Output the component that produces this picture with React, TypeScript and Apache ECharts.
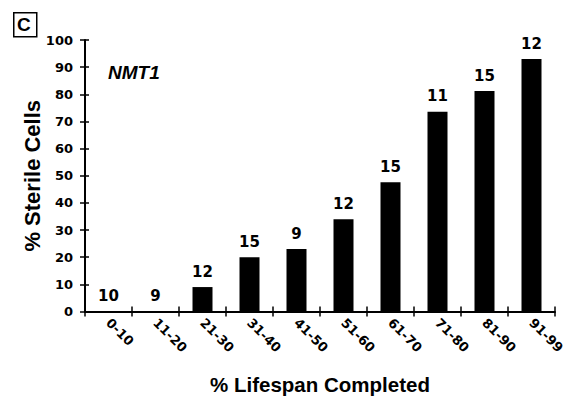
import React, { useEffect, useRef } from "react";
import * as echarts from "echarts";

const categories = ["0-10", "11-20", "21-30", "31-40", "41-50", "51-60", "61-70", "71-80", "81-90", "91-99"];
const sterilePercent = [0, 0, 9, 20, 23, 34, 47.6, 73.6, 81.2, 93];
const cellCounts = [10, 9, 12, 15, 9, 12, 15, 11, 15, 12];
const yTicks = { min: 0, max: 100, interval: 10 };
const panelLabel = "C";
const strainLabel = "NMT1";
const xTitle = "% Lifespan Completed";
const yTitle = "% Sterile Cells";

const NUM_FONT = "'DejaVu Sans', sans-serif";
const TXT_FONT = "'Liberation Sans', Arial, Helvetica, sans-serif";

export default function App() {
  const ref = useRef<HTMLDivElement>(null);
  useEffect(() => {
    if (!ref.current) return;
    const chart = echarts.init(ref.current, undefined, { renderer: "svg" });
    const axisLine = { show: true, lineStyle: { color: "#000", width: 2 } };
    chart.setOption({
      animation: false,
      backgroundColor: "#fff",
      grid: { left: 85, right: 11, top: 40, bottom: 86.5, containLabel: false, outerBoundsMode: "none" },
      xAxis: [
        {
          type: "category",
          data: categories,
          boundaryGap: true,
          axisLine,
          axisTick: { show: true, length: 5, lineStyle: { color: "#000", width: 1.5 } },
          axisLabel: {
            rotate: -45,
            margin: 9,
            color: "#000",
            fontFamily: NUM_FONT,
            fontWeight: "bold",
            fontSize: 13,
            interval: 0,
          },
          name: xTitle,
          nameLocation: "middle",
          nameGap: 62,
          nameMoveOverlap: false,
          nameTextStyle: { color: "#000", fontFamily: TXT_FONT, fontWeight: "bold", fontSize: 20.5 },
        },
        {
          type: "category",
          data: categories,
          position: "bottom",
          boundaryGap: true,
          axisLine: { show: false },
          axisTick: { show: true, inside: true, length: 5, lineStyle: { color: "#000", width: 1.5 } },
          axisLabel: { show: false },
        },
      ],
      yAxis: [
        {
          type: "value",
          min: yTicks.min,
          max: yTicks.max,
          interval: yTicks.interval,
          axisLine,
          axisTick: { show: true, length: 5, lineStyle: { color: "#000", width: 1.5 } },
          splitLine: { show: false },
          axisLabel: {
            margin: 12,
            color: "#000",
            fontFamily: NUM_FONT,
            fontWeight: "bold",
            fontSize: 13,
          },
          name: yTitle,
          nameLocation: "middle",
          nameGap: 42,
          nameMoveOverlap: false,
          nameTextStyle: { color: "#000", fontFamily: TXT_FONT, fontWeight: "bold", fontSize: 22 },
        },
        {
          type: "value",
          position: "left",
          min: yTicks.min,
          max: yTicks.max,
          interval: yTicks.interval,
          axisLine: { show: false },
          axisTick: { show: true, inside: true, length: 4, lineStyle: { color: "#000", width: 1.5 } },
          splitLine: { show: false },
          axisLabel: { show: false },
        },
      ],
      series: [
        {
          type: "bar",
          data: sterilePercent,
          barWidth: 20,
          itemStyle: { color: "#000" },
          label: {
            show: true,
            position: "top",
            distance: 8,
            color: "#000",
            fontFamily: NUM_FONT,
            fontWeight: "bold",
            fontSize: 15,
            formatter: (p: any) => String(cellCounts[p.dataIndex]),
          },
        },
      ],
      graphic: [
        {
          type: "rect",
          left: 13,
          top: 12,
          shape: { width: 23, height: 24 },
          style: { fill: "#fff", stroke: "#000", lineWidth: 1.5 },
        },
        {
          type: "text",
          left: 17,
          top: 15,
          style: { text: panelLabel, fill: "#000", font: `bold 19px ${TXT_FONT}` },
        },
        {
          type: "text",
          left: 108,
          top: 63,
          style: { text: strainLabel, fill: "#000", font: `italic bold 19px ${TXT_FONT}` },
        },
      ],
    });
    return () => chart.dispose();
  }, []);
  return <div ref={ref} style={{ width: 566, height: 398, position: "absolute", left: 0, top: 0 }} />;
}
